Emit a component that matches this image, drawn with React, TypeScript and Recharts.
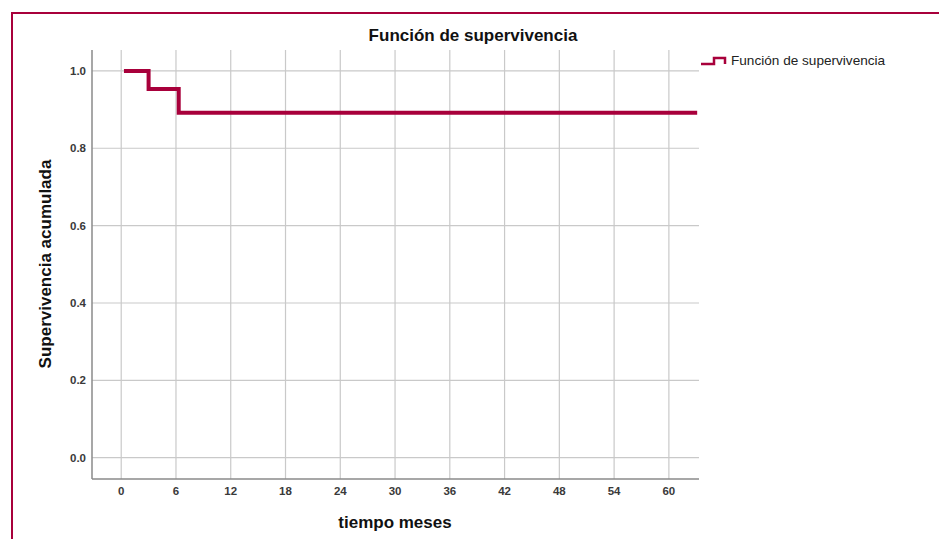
import React from "react";
import { LineChart, Line, XAxis, YAxis, CartesianGrid, Legend } from "recharts";

const seriesName = "Función de supervivencia";
const times = [0.3, 3.0, 6.3, 63.1];
const survival = [1.0, 0.953, 0.892, 0.892];
const xTicks = [0, 6, 12, 18, 24, 30, 36, 42, 48, 54, 60];
const yTicks = [0.0, 0.2, 0.4, 0.6, 0.8, 1.0];
const chartTitle = "Función de supervivencia";
const xTitle = "tiempo meses";
const yTitle = "Supervivencia acumulada";

const data = times.map((t, i) => ({ t, s: survival[i] }));

const RED = "#a8003b";
const FONT = "'Liberation Sans', Arial, sans-serif";

const LegendContent = () => (
  <div style={{ display: "flex", alignItems: "center", fontFamily: FONT, fontSize: 13.6, color: "#222", whiteSpace: "nowrap" }}>
    <svg width={30} height={14} style={{ marginRight: 1 }}>
      <path d="M1 10 H14 V4 H25 V10" fill="none" stroke={RED} strokeWidth={2.5} />
    </svg>
    <span>{seriesName}</span>
  </div>
);

export default function App() {
  return (
    <div style={{ position: "absolute", left: 0, top: 0, width: 939, height: 539, overflow: "hidden", background: "#fff" }}>
      <div
        style={{
          position: "absolute",
          left: 11,
          top: 12,
          width: 1000,
          height: 700,
          borderLeft: `2px solid ${RED}`,
          borderTop: `2px solid ${RED}`,
        }}
      />
      <LineChart
        width={939}
        height={539}
        data={data}
        margin={{ top: 50, right: 240, bottom: 30, left: 32 }}
        style={{ position: "absolute", left: 0, top: 0 }}
      >
        <CartesianGrid stroke="#c9c9c9" strokeWidth={1.2} syncWithTicks />
        <XAxis
          dataKey="t"
          type="number"
          domain={[-3.2, 63.3]}
          ticks={xTicks}
          allowDataOverflow
          height={30}
          tickLine={false}
          axisLine={{ stroke: "#8a8a8a", strokeWidth: 1.5 }}
          tick={{ fill: "#3a3a3a", fontSize: 11.5, fontWeight: "bold", fontFamily: FONT }}
        />
        <YAxis
          type="number"
          domain={[-0.055, 1.054]}
          ticks={yTicks}
          allowDataOverflow
          width={60}
          tickSize={4}
          tickLine={false}
          axisLine={{ stroke: "#8a8a8a", strokeWidth: 1.5 }}
          tick={{ fill: "#3a3a3a", fontSize: 11.5, fontWeight: "bold", fontFamily: FONT }}
          tickFormatter={(v: number) => v.toFixed(1)}
        />
        <Legend
          layout="horizontal"
          verticalAlign="middle"
          align="center"
          content={<LegendContent />}
          wrapperStyle={{ position: "absolute", left: 700, top: 53, width: 230, height: 16 }}
        />
        <Line
          type="stepAfter"
          dataKey="s"
          name={seriesName}
          stroke={RED}
          strokeWidth={4}
          dot={false}
          activeDot={false}
          isAnimationActive={false}
        />
        <text x={473} y={41} textAnchor="middle" fontFamily={FONT} fontSize={17} fontWeight="bold" fill="#111">
          {chartTitle}
        </text>
        <text x={395} y={528} textAnchor="middle" fontFamily={FONT} fontSize={17} fontWeight="bold" fill="#111">
          {xTitle}
        </text>
        <text
          x={51}
          y={264}
          textAnchor="middle"
          fontFamily={FONT}
          fontSize={17}
          fontWeight="bold"
          fill="#111"
          transform="rotate(-90 51 264)"
        >
          {yTitle}
        </text>
      </LineChart>
    </div>
  );
}
